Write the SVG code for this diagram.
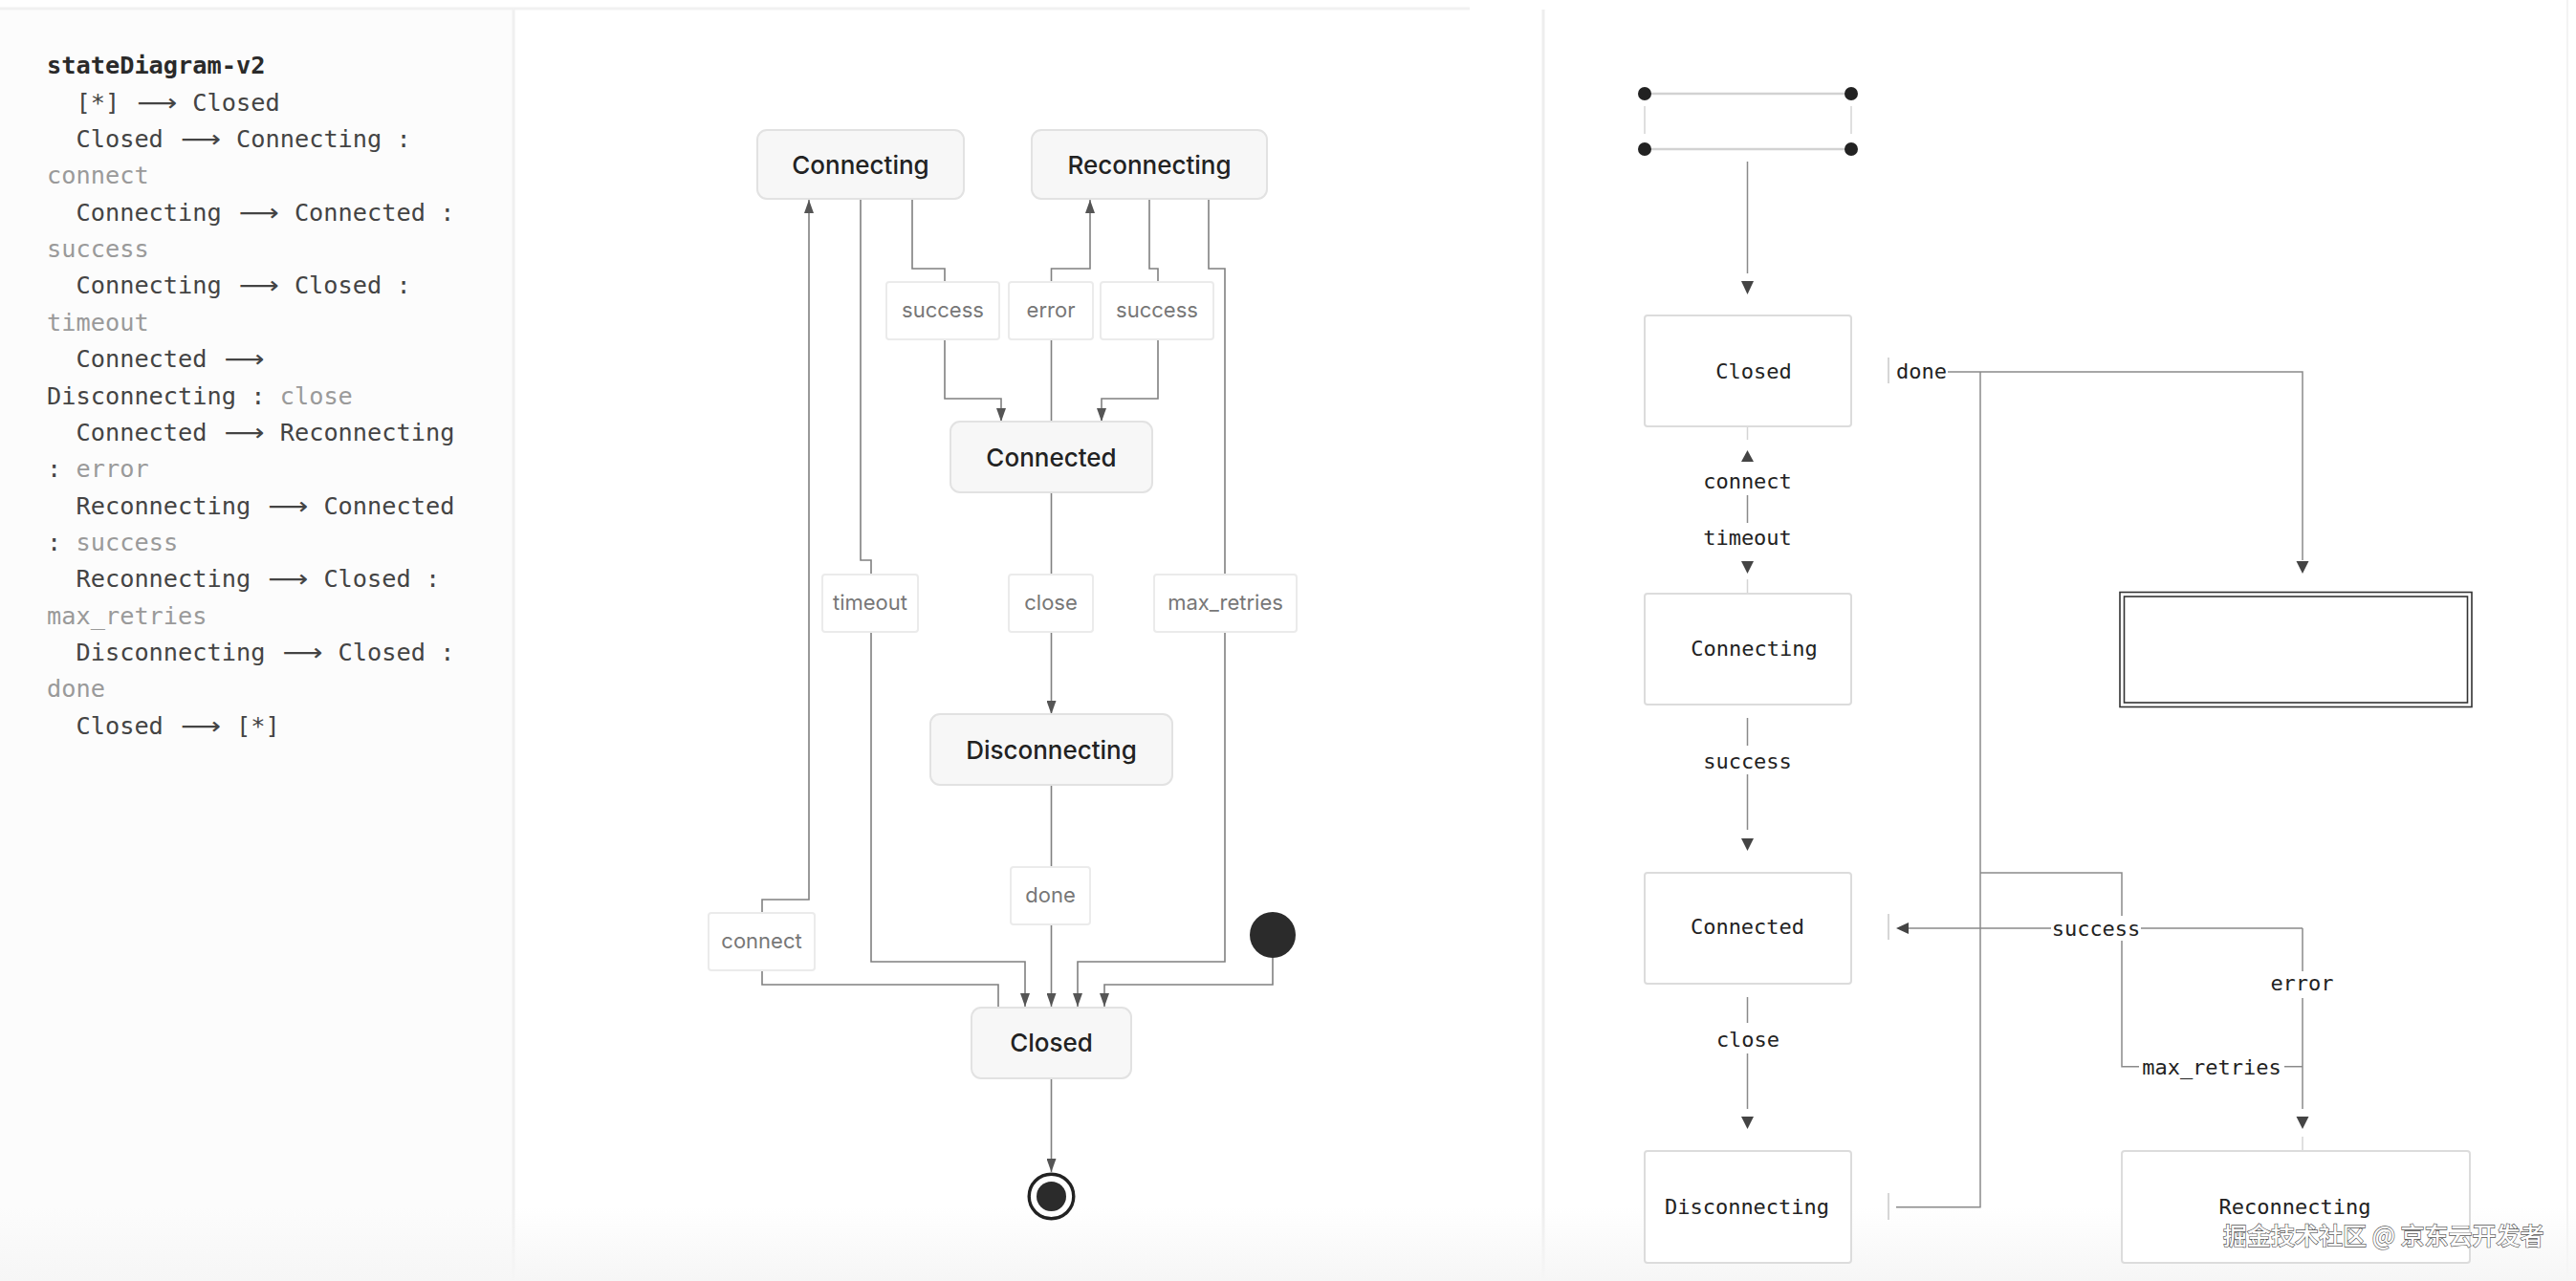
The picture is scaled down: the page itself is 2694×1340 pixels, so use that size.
<svg xmlns="http://www.w3.org/2000/svg" width="2694" height="1340" viewBox="0 0 2694 1340">
<defs>
<style>
.code{font-family:"DejaVu Sans Mono","Liberation Mono",monospace;font-size:25.3px;fill:#444}
.code .t{fill:#2a2a2a;font-weight:bold}
.code .g{fill:#9a9a9a}
.larr{font-family:"DejaVu Sans","Noto Sans",sans-serif;font-size:25px;fill:#444}
.node rect{fill:#f7f7f7;stroke:#e2e2e2;stroke-width:2}
.node text{font-family:Inter,"Liberation Sans",sans-serif;font-size:26px;font-weight:500;fill:#222;text-anchor:middle}
.lbl rect{fill:#fff;stroke:#ebebeb;stroke-width:2}
.lbl text{font-family:Inter,"Liberation Sans",sans-serif;font-size:22px;fill:#777;text-anchor:middle}
.edge{fill:none;stroke:#808080;stroke-width:1.6}
.rnode rect{fill:#fff;stroke:#dcdcdc;stroke-width:2}
.rt{font-family:"DejaVu Sans Mono","Liberation Mono",monospace;font-size:22px;fill:#222;text-anchor:middle}
.redge{fill:none;stroke:#8a8a8a;stroke-width:1.5}
.rfaint{fill:none;stroke:#d4d4d4;stroke-width:1.5}
.rah{fill:#444}
.tick{stroke:#c8c8c8;stroke-width:1.5}
</style>
<marker id="ah" viewBox="0 0 14 10" refX="14" refY="5" markerWidth="14" markerHeight="10" markerUnits="userSpaceOnUse" orient="auto">
<path d="M0,0 L14,5 L0,10 z" fill="#555"/>
</marker>
<linearGradient id="fade" x1="0" y1="0" x2="0" y2="1">
<stop offset="0" stop-color="#f6f6f6" stop-opacity="0"/>
<stop offset="1" stop-color="#f6f6f6" stop-opacity="1"/>
</linearGradient>
</defs>

<!-- backgrounds -->
<rect x="0" y="0" width="2694" height="1340" fill="#fff"/>
<rect x="0" y="10" width="536" height="1330" fill="#fcfcfc"/>
<line x1="537" y1="10" x2="537" y2="1340" stroke="#f0f0f0" stroke-width="3"/>
<line x1="0" y1="9" x2="1537" y2="9" stroke="#f1f1f1" stroke-width="3"/>
<line x1="1614" y1="10" x2="1614" y2="1340" stroke="#eeeeee" stroke-width="3"/>
<line x1="2685" y1="0" x2="2685" y2="1340" stroke="#f3f3f3" stroke-width="2"/>
<rect x="0" y="1262" width="2694" height="78" fill="url(#fade)"/>

<!-- source code panel -->
<g id="code">
<text class="code" xml:space="preserve" y="77.3"><tspan class="t" x="49">stateDiagram-v2</tspan></text>
<text class="code" xml:space="preserve" y="115.7"><tspan x="49">  [*]</tspan><tspan x="201.3">Closed</tspan></text>
<text class="code" xml:space="preserve" y="154"><tspan x="49">  Closed</tspan><tspan x="247">Connecting :</tspan></text>
<text class="code" xml:space="preserve" y="192.4"><tspan class="g" x="49">connect</tspan></text>
<text class="code" xml:space="preserve" y="230.7"><tspan x="49">  Connecting</tspan><tspan x="307.9">Connected :</tspan></text>
<text class="code" xml:space="preserve" y="269.1"><tspan class="g" x="49">success</tspan></text>
<text class="code" xml:space="preserve" y="307.4"><tspan x="49">  Connecting</tspan><tspan x="307.9">Closed :</tspan></text>
<text class="code" xml:space="preserve" y="345.8"><tspan class="g" x="49">timeout</tspan></text>
<text class="code" xml:space="preserve" y="384.1"><tspan x="49">  Connected</tspan></text>
<text class="code" xml:space="preserve" y="422.5"><tspan x="49">Disconnecting : </tspan><tspan class="g" x="292.7">close</tspan></text>
<text class="code" xml:space="preserve" y="460.8"><tspan x="49">  Connected</tspan><tspan x="292.7">Reconnecting</tspan></text>
<text class="code" xml:space="preserve" y="499.2"><tspan x="49">: </tspan><tspan class="g" x="79.5">error</tspan></text>
<text class="code" xml:space="preserve" y="537.5"><tspan x="49">  Reconnecting</tspan><tspan x="338.4">Connected</tspan></text>
<text class="code" xml:space="preserve" y="575.9"><tspan x="49">: </tspan><tspan class="g" x="79.5">success</tspan></text>
<text class="code" xml:space="preserve" y="614.2"><tspan x="49">  Reconnecting</tspan><tspan x="338.4">Closed :</tspan></text>
<text class="code" xml:space="preserve" y="652.6"><tspan class="g" x="49">max_retries</tspan></text>
<text class="code" xml:space="preserve" y="690.9"><tspan x="49">  Disconnecting</tspan><tspan x="353.6">Closed :</tspan></text>
<text class="code" xml:space="preserve" y="729.3"><tspan class="g" x="49">done</tspan></text>
<text class="code" xml:space="preserve" y="767.6"><tspan x="49">  Closed</tspan><tspan x="247">[*]</tspan></text>
<text class="larr" x="143" y="115.7" textLength="42" lengthAdjust="spacingAndGlyphs">⟶</text>
<text class="larr" x="188.7" y="154" textLength="42" lengthAdjust="spacingAndGlyphs">⟶</text>
<text class="larr" x="249.6" y="230.7" textLength="42" lengthAdjust="spacingAndGlyphs">⟶</text>
<text class="larr" x="249.6" y="307.4" textLength="42" lengthAdjust="spacingAndGlyphs">⟶</text>
<text class="larr" x="234.3" y="384.1" textLength="42" lengthAdjust="spacingAndGlyphs">⟶</text>
<text class="larr" x="234.3" y="460.8" textLength="42" lengthAdjust="spacingAndGlyphs">⟶</text>
<text class="larr" x="280" y="537.5" textLength="42" lengthAdjust="spacingAndGlyphs">⟶</text>
<text class="larr" x="280" y="614.2" textLength="42" lengthAdjust="spacingAndGlyphs">⟶</text>
<text class="larr" x="295.3" y="690.9" textLength="42" lengthAdjust="spacingAndGlyphs">⟶</text>
<text class="larr" x="188.7" y="767.6" textLength="42" lengthAdjust="spacingAndGlyphs">⟶</text>
</g>

<!-- middle diagram connectors -->
<g id="connectors">
<path class="edge" d="M954,208 V281 H988 V295"/>
<path class="edge" d="M988,355 V417 H1047 V441" marker-end="url(#ah)"/>
<path class="edge" d="M1099.5,441 V355"/>
<path class="edge" d="M1099.5,295 V281 H1140 V209" marker-end="url(#ah)"/>
<path class="edge" d="M1202,208 V281 H1211 V295"/>
<path class="edge" d="M1211,355 V417 H1152 V441" marker-end="url(#ah)"/>
<path class="edge" d="M1264,208 V281 H1281 V601"/>
<path class="edge" d="M1281,661 V1006 H1127 V1053" marker-end="url(#ah)"/>
<path class="edge" d="M900,208 V586 H911 V601"/>
<path class="edge" d="M911,661 V1006 H1072 V1053" marker-end="url(#ah)"/>
<path class="edge" d="M1044,1053 V1030 H797 V1015"/>
<path class="edge" d="M797,955 V941 H846 V209" marker-end="url(#ah)"/>
<path class="edge" d="M1099.5,515 V601"/>
<path class="edge" d="M1099.5,661 V747" marker-end="url(#ah)"/>
<path class="edge" d="M1099.5,821 V907"/>
<path class="edge" d="M1099.5,967 V1053" marker-end="url(#ah)"/>
<path class="edge" d="M1331,1002 V1030 H1155 V1053" marker-end="url(#ah)"/>
<path class="edge" d="M1099.5,1128 V1226" marker-end="url(#ah)"/>
<g class="lbl"><rect x="927" y="295" width="118" height="60" rx="3"/><text x="986" y="332">success</text></g>
<g class="lbl"><rect x="1055" y="295" width="88" height="60" rx="3"/><text x="1099" y="332">error</text></g>
<g class="lbl"><rect x="1151" y="295" width="118" height="60" rx="3"/><text x="1210" y="332">success</text></g>
<g class="lbl"><rect x="860" y="601" width="100" height="60" rx="3"/><text x="910" y="638">timeout</text></g>
<g class="lbl"><rect x="1055" y="601" width="88" height="60" rx="3"/><text x="1099" y="638">close</text></g>
<g class="lbl"><rect x="1207" y="601" width="149" height="60" rx="3"/><text x="1281.5" y="638">max_retries</text></g>
<g class="lbl"><rect x="1057" y="907" width="83" height="60" rx="3"/><text x="1098.5" y="944">done</text></g>
<g class="lbl"><rect x="741" y="955" width="111" height="60" rx="3"/><text x="796.5" y="992">connect</text></g>
</g>

<!-- middle diagram nodes -->
<g id="node-connecting" class="node"><rect x="792" y="136" width="216" height="72" rx="10"/><text x="900" y="181.5">Connecting</text></g>
<g id="node-reconnecting" class="node"><rect x="1079" y="136" width="246" height="72" rx="10"/><text x="1202" y="181.5">Reconnecting</text></g>
<g id="node-connected" class="node"><rect x="994" y="441" width="211" height="74" rx="10"/><text x="1099.5" y="487.5">Connected</text></g>
<g id="node-disconnecting" class="node"><rect x="973" y="747" width="253" height="74" rx="10"/><text x="1099.5" y="793.5">Disconnecting</text></g>
<g id="node-closed" class="node"><rect x="1016" y="1054" width="167" height="74" rx="10"/><text x="1099.5" y="1100">Closed</text></g>
<g id="node-start"><circle cx="1331" cy="978" r="24" fill="#2b2b2b"/></g>
<g id="node-end"><circle cx="1099.5" cy="1251.5" r="23.3" fill="#fff" stroke="#222" stroke-width="3.4"/><circle cx="1099.5" cy="1251.5" r="15.5" fill="#2b2b2b"/></g>

<!-- right panel connectors -->
<g id="r-connectors">
<line class="rfaint" x1="1720" y1="111" x2="1720" y2="140"/>
<line class="rfaint" x1="1936" y1="111" x2="1936" y2="140"/>
<line class="redge" x1="1827.5" y1="169" x2="1827.5" y2="286"/>
<polygon class="rah" points="1821,294 1834,294 1827.5,308"/>
<line class="rfaint" x1="1827.5" y1="446" x2="1827.5" y2="460"/>
<polygon class="rah" points="1827.5,471 1834,483 1821,483"/>
<text class="rt" x="1827.5" y="511">connect</text>
<line class="redge" x1="1827.5" y1="518" x2="1827.5" y2="547"/>
<text class="rt" x="1827.5" y="570">timeout</text>
<polygon class="rah" points="1821,587 1834,587 1827.5,600"/>
<line class="rfaint" x1="1827.5" y1="606" x2="1827.5" y2="620"/>
<line class="redge" x1="1827.5" y1="751" x2="1827.5" y2="780"/>
<text class="rt" x="1827.5" y="803.5">success</text>
<line class="redge" x1="1827.5" y1="810" x2="1827.5" y2="868"/>
<polygon class="rah" points="1821,877 1834,877 1827.5,890"/>
<line class="redge" x1="1827.5" y1="1043" x2="1827.5" y2="1070"/>
<text class="rt" x="1828" y="1094.5">close</text>
<line class="redge" x1="1827.5" y1="1102" x2="1827.5" y2="1160"/>
<polygon class="rah" points="1821,1168 1834,1168 1827.5,1181"/>
<line class="tick" x1="1975" y1="374" x2="1975" y2="401"/>
<text class="rt" x="2009.5" y="395.5">done</text>
<path class="redge" d="M2037,389 H2408 V586"/>
<polygon class="rah" points="2401.5,587 2414.5,587 2408,600"/>
<path class="redge" d="M2071,389 V1262.7 H1983"/>
<line class="tick" x1="1975" y1="1248" x2="1975" y2="1276"/>
<path class="redge" d="M2071,913 H2219 V958"/>
<path class="redge" d="M2219,984 V1115.7 H2237"/>
<text class="rt" x="2313" y="1123.5">max_retries</text>
<line class="redge" x1="2389" y1="1115.7" x2="2408" y2="1115.7"/>
<path class="redge" d="M2408,971 V1016"/>
<path class="redge" d="M2408,1044 V1160"/>
<text class="rt" x="2407.5" y="1036">error</text>
<polygon class="rah" points="2401.5,1168 2414.5,1168 2408,1181"/>
<line class="rfaint" x1="2408" y1="1189" x2="2408" y2="1204"/>
<line class="redge" x1="2408" y1="971" x2="2239" y2="971"/>
<text class="rt" x="2192" y="978.5">success</text>
<line class="redge" x1="2145" y1="971" x2="1996" y2="971"/>
<polygon class="rah" points="1983,971 1996,965 1996,977"/>
<line class="tick" x1="1975" y1="956" x2="1975" y2="983"/>
</g>

<!-- right panel nodes -->
<g id="r-fork">
<line x1="1720" y1="98" x2="1936" y2="98" stroke="#d2d2d2" stroke-width="2.5"/>
<line x1="1720" y1="156" x2="1936" y2="156" stroke="#d2d2d2" stroke-width="2.5"/>
<circle cx="1720" cy="98" r="7" fill="#222"/><circle cx="1936" cy="98" r="7" fill="#222"/>
<circle cx="1720" cy="156" r="7" fill="#222"/><circle cx="1936" cy="156" r="7" fill="#222"/>
</g>
<g id="r-closed" class="rnode"><rect x="1720" y="330" width="216" height="116" rx="3"/><text class="rt" x="1834" y="395.5">Closed</text></g>
<g id="r-connecting" class="rnode"><rect x="1720" y="621" width="216" height="116" rx="3"/><text class="rt" x="1834.5" y="686">Connecting</text></g>
<g id="r-connected" class="rnode"><rect x="1720" y="913" width="216" height="116" rx="3"/><text class="rt" x="1827.5" y="977">Connected</text></g>
<g id="r-disconnecting" class="rnode"><rect x="1720" y="1204" width="216" height="117" rx="3"/><text class="rt" x="1827" y="1270">Disconnecting</text></g>
<g id="r-reconnecting" class="rnode"><rect x="2219" y="1204" width="364" height="117" rx="3"/><text class="rt" x="2400" y="1270">Reconnecting</text></g>
<g id="r-final"><rect x="2217" y="619.5" width="368" height="120" fill="#fff" stroke="#333" stroke-width="1.6"/><rect x="2221.5" y="624" width="359" height="111" fill="none" stroke="#333" stroke-width="1.6"/></g>

<!-- watermark -->
<text x="2325" y="1302" font-family="'Noto Sans CJK SC',sans-serif" font-size="25" font-weight="500" fill="#ffffff" stroke="#555" stroke-width="1.3" paint-order="stroke">掘金技术社区 @ 京东云开发者</text>
</svg>
